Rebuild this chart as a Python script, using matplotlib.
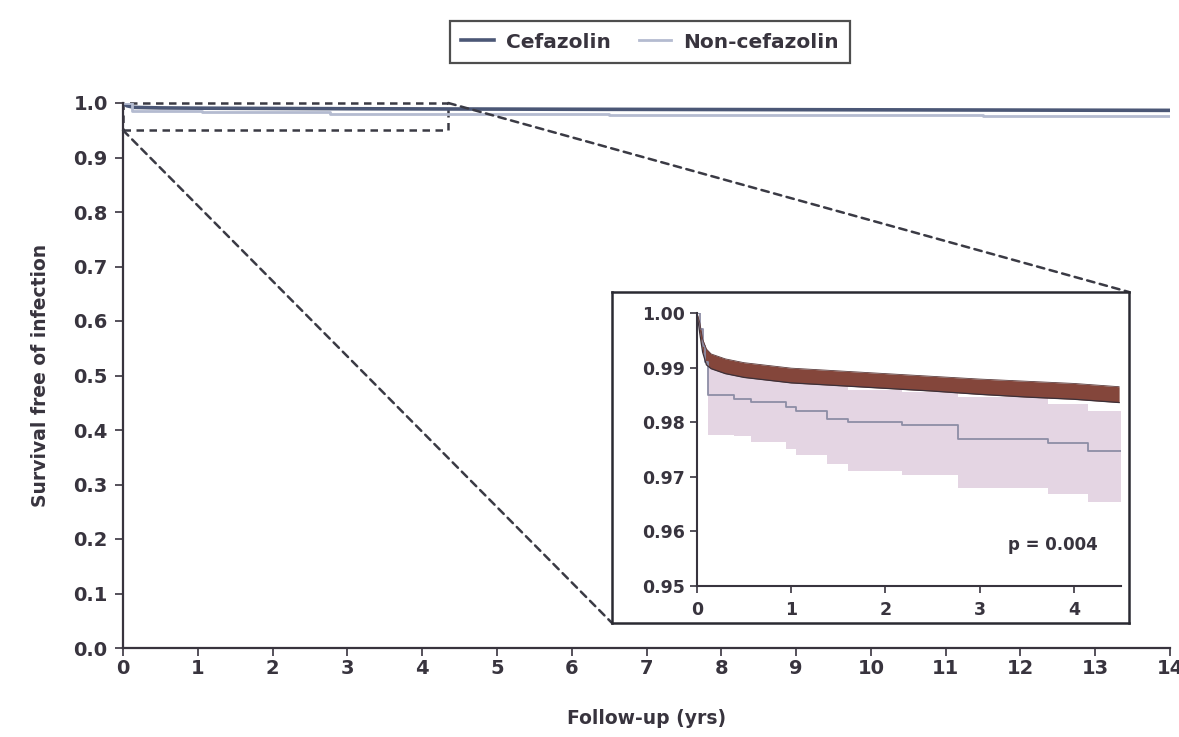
import numpy as np
import matplotlib.pyplot as plt
from matplotlib.patches import Rectangle, ConnectionPatch

plt.rcParams["font.family"] = ["DejaVu Sans"]
plt.rcParams["font.weight"] = "bold"
plt.rcParams["axes.labelweight"] = "bold"
text_color = "#38343e"

# main panel (whole follow-up)
main_t = [0, 0.05, 0.15, 0.5, 1, 2, 3, 4.5, 6, 8, 10, 12, 14]
main_cef = [1.0, 0.995, 0.992, 0.991, 0.9905, 0.99, 0.9895, 0.989, 0.9885, 0.988, 0.9875, 0.987, 0.9865]
main_non_t = [0, 0.12, 1.05, 2.77, 4.15, 6.5, 9, 11.5, 14]
main_non = [1.0, 0.985, 0.983, 0.980, 0.979, 0.978, 0.9775, 0.977, 0.977]

# inset: cefazolin survival with confidence band
cef_t = [0, 0.03, 0.06, 0.1, 0.15, 0.3, 0.5, 1.0, 1.5, 2.0, 2.5, 3.0, 3.5, 4.0, 4.48]
cef_s = [1.0, 0.997, 0.994, 0.992, 0.9912, 0.9903, 0.9895, 0.9885, 0.988, 0.9875, 0.987, 0.9865, 0.986, 0.9856, 0.985]
cef_lo = [1.0, 0.9962, 0.9928, 0.9905, 0.9898, 0.9889, 0.9882, 0.9872, 0.9867, 0.9862, 0.9857, 0.9851, 0.9846, 0.9842, 0.9836]
cef_hi = [1.0, 0.9982, 0.9952, 0.9934, 0.9925, 0.9916, 0.9909, 0.9899, 0.9894, 0.9889, 0.9884, 0.9879, 0.9875, 0.9871, 0.9865]

# inset: non-cefazolin step curve with confidence band
non_t = [0, 0.03, 0.06, 0.09, 0.12, 0.39, 0.57, 0.94, 1.05, 1.38, 1.6, 2.18, 2.77, 3.72, 4.15, 4.5]
non_s = [1.0, 0.997, 0.994, 0.991, 0.985, 0.9843, 0.9837, 0.9828, 0.982, 0.9805, 0.980, 0.9794, 0.9769, 0.9761, 0.9748, 0.9748]
non_lo = [1.0, 0.997, 0.994, 0.991, 0.9777, 0.9774, 0.9764, 0.9751, 0.974, 0.9723, 0.9711, 0.9704, 0.968, 0.9668, 0.9653, 0.9653]
non_hi = [1.0, 0.997, 0.994, 0.991, 0.991, 0.9895, 0.989, 0.9885, 0.988, 0.9875, 0.9859, 0.9855, 0.9846, 0.9834, 0.9821, 0.9821]

xticks_main = list(range(0, 15))
yticks_main = [i / 10 for i in range(11)]
xticks_inset = [0, 1, 2, 3, 4]
yticks_inset = [0.95, 0.96, 0.97, 0.98, 0.99, 1.00]

fig = plt.figure(figsize=(11.79, 7.37), dpi=100)
W, H = 1179, 737

ax = fig.add_axes([123 / W, 1 - 648 / H, (1170 - 123) / W, (648 - 103) / H])
ax.plot(main_t, main_cef, color="#4b5776", lw=2.6, label="Cefazolin")
ax.step(main_non_t, main_non, where="post", color="#b4bbd0", lw=2.0, label="Non-cefazolin")
ax.set_xlim(0, 14)
ax.set_ylim(0, 1.0)
ax.set_xticks(xticks_main)
ax.set_yticks(yticks_main)
ax.set_yticklabels([f"{v:.1f}" for v in yticks_main])
for s in ["top", "right"]:
    ax.spines[s].set_visible(False)
for s in ["left", "bottom"]:
    ax.spines[s].set_color(text_color)
    ax.spines[s].set_linewidth(1.6)
ax.tick_params(colors=text_color, labelsize=14, width=1.2, length=6)
ax.tick_params(axis="x", pad=2)
ax.tick_params(axis="y", pad=5)
ax.set_xlabel("Follow-up (yrs)", fontsize=13.5, color=text_color, labelpad=22)
ax.set_ylabel("Survival free of infection", fontsize=13.5, color=text_color, labelpad=17)

dash = (0, (3, 2.2))
ax.add_patch(Rectangle((0, 0.95), 4.35, 0.05, fill=False, ec="#3a3a44", lw=1.8,
                       ls=dash, clip_on=False, zorder=1))

leg = fig.legend(loc="center", bbox_to_anchor=(650 / W, 1 - 42 / H), ncol=2,
                 fontsize=14.5, frameon=True, fancybox=False, handlelength=1.6,
                 columnspacing=1.4, borderpad=0.55, handletextpad=0.6)
leg.get_frame().set_edgecolor("#222222")
leg.get_frame().set_linewidth(1.6)
for t in leg.get_texts():
    t.set_color(text_color)

# inset frame
box = fig.add_axes([612 / W, 1 - 623 / H, (1129 - 612) / W, (623 - 292) / H])
box.set_xticks([])
box.set_yticks([])
for s in box.spines.values():
    s.set_color("#2a2a32")
    s.set_linewidth(1.8)
box.set_zorder(3)

for xy_main, xy_box in [((4.35, 1.0), (1, 1)), ((0, 0.95), (0, 0))]:
    con = ConnectionPatch(xyA=xy_main, coordsA=ax.transData, xyB=xy_box, coordsB=box.transAxes,
                          color="#3a3a44", lw=1.8, ls=dash)
    fig.add_artist(con)

ins = fig.add_axes([697 / W, 1 - 586 / H, (1121 - 697) / W, (586 - 313) / H])
ins.set_zorder(4)
ins.patch.set_alpha(0)
ins.fill_between(non_t, non_lo, non_hi, step="post", color="#e4d5e3", lw=0)
ins.step(non_t, non_s, where="post", color="#8d8ea6", lw=1.3)
ins.fill_between(cef_t, cef_lo, cef_hi, color="#84463b", lw=0)
ins.plot(cef_t, cef_lo, color="#3c3038", lw=0.9)
ins.plot(cef_t, cef_hi, color="#5a3a3a", lw=0.6)
ins.set_xlim(0, 4.5)
ins.set_ylim(0.95, 1.0)
ins.set_xticks(xticks_inset)
ins.set_yticks(yticks_inset)
ins.set_yticklabels([f"{v:.2f}" for v in yticks_inset])
for s in ["top", "right"]:
    ins.spines[s].set_visible(False)
for s in ["left", "bottom"]:
    ins.spines[s].set_color(text_color)
    ins.spines[s].set_linewidth(1.5)
ins.tick_params(colors=text_color, labelsize=12.5, width=1.2, length=5)
ins.tick_params(axis="x", pad=6)
ins.text(4.25, 0.9575, "p = 0.004", ha="right", va="center", fontsize=12, color=text_color)

fig.savefig("out.png", dpi=100)
